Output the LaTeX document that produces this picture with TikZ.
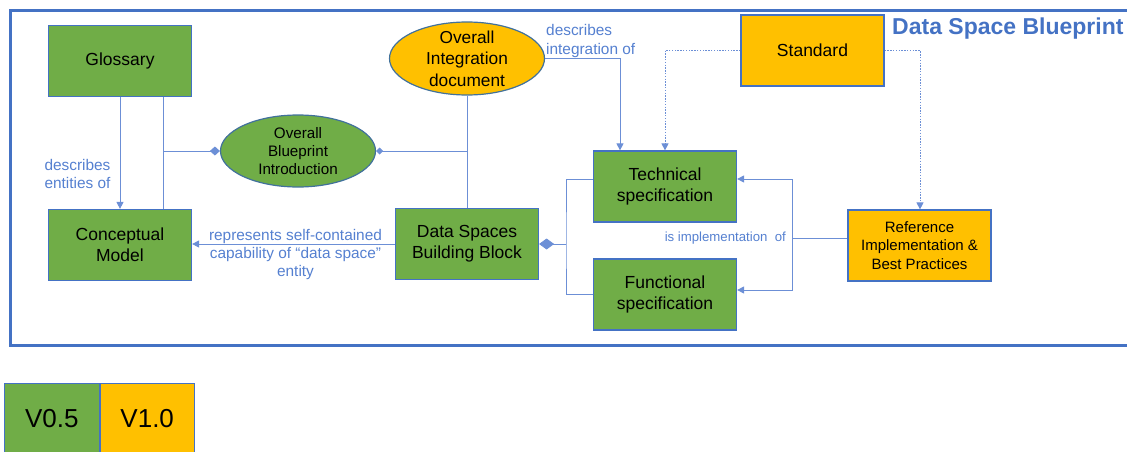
\documentclass[tikz,border=0pt]{standalone}
\usepackage{fontspec}
\setmainfont{Liberation Sans}
\usetikzlibrary{arrows.meta,shapes.geometric}

\definecolor{frameblue}{HTML}{4472C4}
\definecolor{linkblue}{HTML}{6C8FD6}
\definecolor{labelblue}{HTML}{5580D0}
\definecolor{boxgreen}{HTML}{70AD47}
\definecolor{boxorange}{HTML}{FFC000}
\definecolor{ellborder}{HTML}{41719C}

\begin{document}
\begin{tikzpicture}[x=1pt,y=-1pt,
  block/.style={draw=frameblue, line width=1.2pt, minimum width=143pt, minimum height=71pt,
    inner sep=0pt, align=center, font=\fontsize{17.5}{21}\selectfont},
  greenbox/.style={block, fill=boxgreen},
  orangebox/.style={block, fill=boxorange},
  oval/.style={ellipse, draw=ellborder, line width=1.2pt, inner sep=0pt},
  ovaltext/.style={align=center, inner sep=0pt},
  conn/.style={draw=linkblue, line width=0.9pt},
  arr/.style={conn, -{Triangle[length=7pt,width=7pt]}},
  dotarr/.style={arr, dash pattern=on 1.4pt off 1.4pt},
  lbl/.style={text=labelblue, align=center, inner sep=0pt, font=\fontsize{15.4}{18.4}\selectfont},
  legendbox/.style={draw=frameblue, line width=0.8pt, minimum height=70pt, inner sep=0pt,
    anchor=north west, font=\fontsize{26}{30}\selectfont},
]
\useasboundingbox (0,0) rectangle (1127,452);
\clip (0,0) rectangle (1127,452);

% outer frame of the blueprint
\draw[frameblue, line width=3pt] (10,11) rectangle (1140,345);

\node[anchor=west, text=frameblue, inner sep=0pt, font=\bfseries\fontsize{23}{28}\selectfont]
  (title) at (892,29) {Data Space Blueprint};

% building blocks
\node[greenbox] (gloss) at (120,61) {Glossary};
\node[greenbox] (concept) at (120,245) {Conceptual\\Model};
\node[greenbox] (dsbb) at (467,244) {Data Spaces\\Building Block};
\node[greenbox] (tech) at (665,186.5) {Technical\\specification};
\node[greenbox] (func) at (665,294.5) {Functional\\specification};
\node[orangebox] (std) at (812.5,50.5) {Standard};
\node[orangebox, font=\fontsize{15}{18.3}\selectfont] (ref) at (919.5,245.5)
  {Reference\\Implementation \&\\Best Practices};

\node[oval, fill=boxgreen, minimum width=155pt, minimum height=72pt,
  label={[ovaltext, font=\fontsize{15.2}{18.3}\selectfont]center:Overall\\Blueprint\\Introduction}]
  (intro) at (298,151) {};
\node[oval, fill=boxorange, minimum width=155pt, minimum height=73pt,
  label={[ovaltext, font=\fontsize{17.3}{21.5}\selectfont]center:Overall\\Integration\\document}]
  (integ) at (467,58.5) {};

% connectors
\coordinate (gx) at (163,0);
\draw[arr] (gloss.south) -- (concept.north);
\draw[conn] (gloss.south -| gx) -- (concept.north -| gx);
\draw[conn, -{Diamond[length=10pt,width=9pt]}] (intro.west -| gx) -- (intro.west);
\draw[conn, {Diamond[length=7pt,width=7pt]}-] (intro.east) -- (intro.east -| integ.south);
\draw[conn] (integ.south) -- (dsbb.north);
\draw[arr] (integ.east) -| ([xshift=-45pt]tech.north);
\draw[dotarr] (std.west) -| (tech.north);
\draw[dotarr] (std.east) -| ([xshift=0.5pt]ref.north);
\draw[arr] (dsbb.west) -- (dsbb.west -| concept.east);

\coordinate (bj) at (566,244);
\draw[conn, {Diamond[length=15pt,width=11pt]}-] (dsbb.east) -- (bj);
\draw[conn] ([yshift=7.5pt]tech.west) -| (bj) |- (func.west);

\coordinate (rj) at (792,238);
\draw[conn] ([yshift=7.5pt]ref.west) -- (rj);
\draw[arr] (rj) |- ([yshift=7.5pt]tech.east);
\draw[arr] (rj) |- ([yshift=4.5pt]func.east);

% connector labels
\node[lbl] (lblent) at (77.5,174) {describes\\entities of};
\node[lbl, align=left, anchor=west] (lblint) at (546,41) {describes\\integration of};
\node[lbl] (lblcap) at (295.5,254.5) {represents self-contained\\capability of “data space”\\entity};
\node[lbl, anchor=east, font=\fontsize{13.2}{16}\selectfont] (lblimpl) at (786,238)
  {is implementation\ \ of};

% version legend
\node[legendbox, fill=boxgreen, minimum width=95pt] (v05) at (4,383) {V0.5};
\node[legendbox, fill=boxorange, minimum width=94pt] (v10) at (v05.north east) {V1.0};
\end{tikzpicture}
\end{document}
